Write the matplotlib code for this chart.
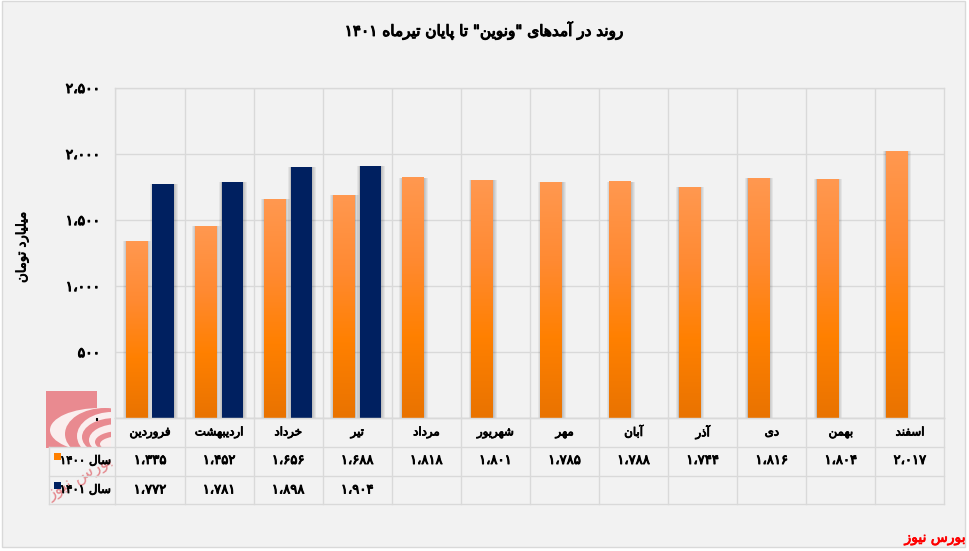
import re
import numpy as np
import matplotlib
matplotlib.use("Agg")
import matplotlib.pyplot as plt
import matplotlib.patheffects as pe
from matplotlib.colors import LinearSegmentedColormap
from matplotlib.patches import Rectangle, Ellipse
from matplotlib.transforms import blended_transform_factory

title = 'روند در آمدهای "ونوین" تا پایان تیرماه ۱۴۰۱'
ylabel = 'میلیارد تومان'
source = 'بورس نیوز'
months = ['فروردین', 'اردیبهشت', 'خرداد', 'تیر', 'مرداد', 'شهریور', 'مهر', 'آبان', 'آذر', 'دی', 'بهمن', 'اسفند']
series_1400_name = 'سال ۱۴۰۰'
series_1401_name = 'سال ۱۴۰۱'
values_1400 = [1335, 1452, 1656, 1688, 1818, 1801, 1785, 1788, 1744, 1816, 1804, 2017]
values_1401 = [1772, 1781, 1898, 1904]
yticks = [0, 500, 1000, 1500, 2000, 2500]

FORMS = {
    'ا': (0xFE8D, 0xFE8E, None, None), 'آ': (0xFE81, 0xFE82, None, None),
    'د': (0xFEA9, 0xFEAA, None, None), 'ذ': (0xFEAB, 0xFEAC, None, None),
    'ر': (0xFEAD, 0xFEAE, None, None), 'ز': (0xFEAF, 0xFEB0, None, None),
    'و': (0xFEED, 0xFEEE, None, None),
    'ب': (0xFE8F, 0xFE90, 0xFE91, 0xFE92), 'پ': (0xFB56, 0xFB57, 0xFB58, 0xFB59),
    'ت': (0xFE95, 0xFE96, 0xFE97, 0xFE98), 'خ': (0xFEA5, 0xFEA6, 0xFEA7, 0xFEA8),
    'س': (0xFEB1, 0xFEB2, 0xFEB3, 0xFEB4), 'ش': (0xFEB5, 0xFEB6, 0xFEB7, 0xFEB8),
    'ف': (0xFED1, 0xFED2, 0xFED3, 0xFED4), 'ل': (0xFEDD, 0xFEDE, 0xFEDF, 0xFEE0),
    'م': (0xFEE1, 0xFEE2, 0xFEE3, 0xFEE4), 'ن': (0xFEE5, 0xFEE6, 0xFEE7, 0xFEE8),
    'ه': (0xFEE9, 0xFEEA, 0xFEEB, 0xFEEC), 'ی': (0xFBFC, 0xFBFD, 0xFBFE, 0xFBFF),
}


def fa(text):
    """Join the Arabic letters and put the string in visual order."""
    out = []
    for i, ch in enumerate(text):
        if ch not in FORMS:
            out.append(ch)
            continue
        prev = text[i - 1] if i else ''
        nxt = text[i + 1] if i + 1 < len(text) else ''
        joins_prev = prev in FORMS and FORMS[prev][2] is not None
        joins_next = nxt in FORMS and FORMS[ch][2] is not None
        idx = {(0, 0): 0, (1, 0): 1, (0, 1): 2, (1, 1): 3}[(int(joins_prev), int(joins_next))]
        out.append(chr(FORMS[ch][idx]))
    runs = re.split('([۰-۹،]+)', ''.join(out))
    return ''.join(r if re.fullmatch('[۰-۹،]+', r) else r[::-1] for r in reversed(runs))


def num(v):
    s = f'{v:,}'.replace(',', '،')
    return s.translate(str.maketrans('0123456789', '۰۱۲۳۴۵۶۷۸۹'))


def heavy(color='black', lw=0.6):
    return [pe.withStroke(linewidth=lw, foreground=color)]


W, H = 970, 551
BG = '#F2F2F2'
GRID = '#D9D9D9'
BLUE = '#002060'
ORANGE = '#FF8000'
PINK = '#E98A90'
PALE = '#FAEEEE'
L, R, T, B = 115.5, 944.5, 87.5, 417.7
plt.rcParams['font.family'] = ['DejaVu Sans']

fig = plt.figure(figsize=(W / 100, H / 100), dpi=100, facecolor='white')
ax = fig.add_axes([L / W, 1 - B / H, (R - L) / W, (B - T) / H], facecolor='none', zorder=2)
over = fig.add_axes([0, 0, 1, 1], facecolor='none', zorder=3)
over.set_xlim(0, W)
over.set_ylim(H, 0)
over.axis('off')
back = fig.add_axes([0, 0, 1, 1], facecolor='none', zorder=1)
back.set_xlim(0, W)
back.set_ylim(H, 0)
back.axis('off')
back.add_patch(Rectangle((2, 1), 963, 546, fc=BG, ec=GRID, lw=1))

x = np.arange(len(months))
bw = 0.31
off_a, off_b = -0.195, 0.19
cmap = LinearSegmentedColormap.from_list('o', ['#FF9850', '#FF8A32', '#FF8000', '#E97300'])
grad = np.linspace(0, 1, 128).reshape(-1, 1)


def shadow(xs, vals):
    for dw, dx in [(0.10, 0.01), (0.07, 0.01), (0.04, 0.008), (0.02, 0.005)]:
        ax.bar(xs + dx, vals, bw + dw, color='black', alpha=0.055, zorder=2, lw=0)


shadow(x + off_a, np.array(values_1400))
xb = x[:len(values_1401)] + off_b
shadow(xb, np.array(values_1401))
bars = ax.bar(x + off_a, values_1400, bw, color=ORANGE, zorder=3, lw=0)
for b in bars:
    ax.imshow(grad, extent=[b.get_x(), b.get_x() + b.get_width(), 0, b.get_height()],
              aspect='auto', cmap=cmap, zorder=3.5, origin='upper')
ax.bar(xb, values_1401, bw, color=BLUE, zorder=3, lw=0)

ax.set_xlim(-0.5, len(months) - 0.5)
ax.set_ylim(0, 2500)
ax.set_yticks(yticks)
ax.set_yticklabels([num(v) for v in yticks], fontsize=10, path_effects=heavy(lw=0.8))
ax.tick_params(axis='y', length=0, pad=11)
ax.set_xticks(x - 0.5)
ax.set_xticklabels([])
ax.tick_params(axis='x', length=0)
ax.grid(True, color=GRID, lw=1, zorder=0)
ax.set_axisbelow(True)
for s in ax.spines.values():
    s.set_color(GRID)
    s.set_linewidth(1)

# table under the axis
tr = blended_transform_factory(ax.transData, over.transData)
rows = [418, 446.5, 475.5, 504]
for yy in rows:
    over.plot([-0.5, 11.5], [yy, yy], color=GRID, lw=1, transform=tr, clip_on=False)
for yy in rows[1:]:
    over.plot([49.5, L], [yy, yy], color=GRID, lw=1)
over.plot([49.5, 49.5], [446.5, 504], color=GRID, lw=1)
for i in range(len(months) + 1):
    over.plot([i - 0.5, i - 0.5], [418, 504], color=GRID, lw=1, transform=tr, clip_on=False)
for i, m in enumerate(months):
    over.text(i, 432, fa(m), transform=tr, ha='center', va='center', fontsize=8.5, path_effects=heavy())
    over.text(i, 460.5, num(values_1400[i]), transform=tr, ha='center', va='center', fontsize=9.5, path_effects=heavy(lw=0.7))
for i, v in enumerate(values_1401):
    over.text(i, 490, num(v), transform=tr, ha='center', va='center', fontsize=9.5, path_effects=heavy(lw=0.7))

# logo (behind the legend)
back.add_patch(Rectangle((46, 391), 51, 57, fc=PINK, ec='none'))
clip = Rectangle((46, 391), 65, 57, transform=back.transData)
for (cx, cy, w, h, c) in [
    (100, 430, 100, 44, PALE), (105, 434, 80, 52, PINK),
    (112, 436, 70, 48, PALE), (115, 437, 66, 38, PINK),
    (118, 440, 58, 32, PALE), (120, 442, 50, 22, PINK),
    (122, 444, 44, 16, PALE),
]:
    e = Ellipse((cx, cy), w, h, fc=c, ec='none')
    back.add_patch(e)
    e.set_clip_path(clip)

# watermark
back.text(80, 477, fa(source), color='#D9303A', alpha=0.55, fontsize=12, rotation=30,
          ha='center', va='center')

# legend keys in the table
over.add_patch(Rectangle((54, 453), 7, 7, fc=ORANGE, ec='none'))
over.add_patch(Rectangle((54, 482), 7, 7, fc=BLUE, ec='none'))
over.text(111, 460.5, fa(series_1400_name), ha='right', va='center', fontsize=8.5, path_effects=heavy())
over.text(111, 489.5, fa(series_1401_name), ha='right', va='center', fontsize=8.5, path_effects=heavy())

over.text(484, 31, fa(title), ha='center', va='center', fontsize=11, path_effects=heavy(lw=0.8))
over.text(22, 247, fa(ylabel), ha='center', va='center', rotation=90, fontsize=9.5, path_effects=heavy())
over.text(966, 538, fa(source), ha='right', va='center', fontsize=10, color='#FF0000',
          path_effects=heavy('#FF0000'))

fig.savefig('out.png', dpi=100, facecolor='white')
